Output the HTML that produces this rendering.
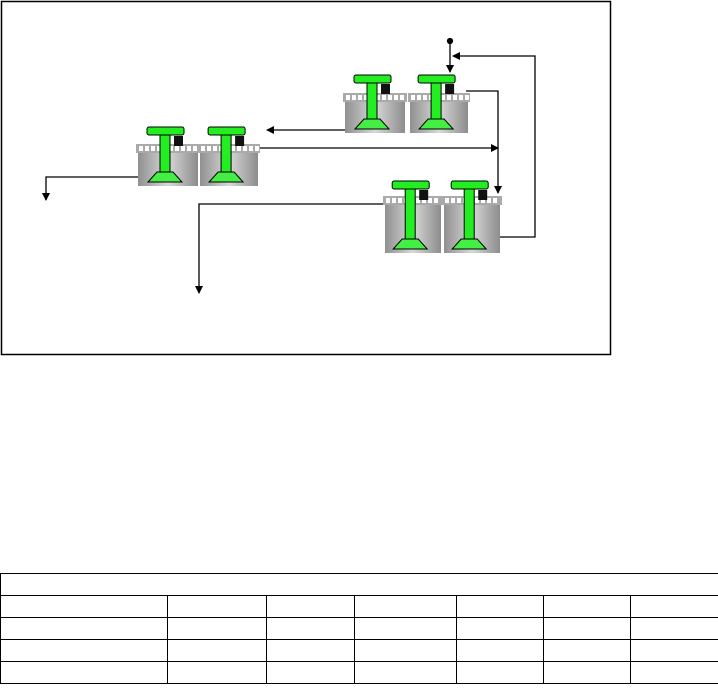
<!DOCTYPE html>
<html><head><style>body{margin:0;background:#fff;width:718px;height:690px;overflow:hidden}
table{position:absolute;left:0;top:573px;border-collapse:collapse;table-layout:fixed;width:718px}
td{border:1.5px solid #000;height:21px;padding:0}
</style></head><body>
<svg id="s" width="718" height="570" style="position:absolute;left:0;top:0">
<defs><linearGradient id="g" x1="0" x2="1"><stop offset="0" stop-color="#909090"/><stop offset=".5" stop-color="#d8d8d8"/><stop offset="1" stop-color="#8c8c8c"/></linearGradient>
<marker id="a" markerWidth="8" markerHeight="8" refX="7" refY="4" orient="auto" markerUnits="userSpaceOnUse"><path d="M0,0L8,4L0,8z"/></marker></defs>
<rect x="1.5" y="1.5" width="609" height="353" fill="none" stroke="#000" stroke-width="1.5"/>
<g fill="none" stroke="#000" stroke-width="1.3">
<path d="M450 41V72" marker-end="url(#a)"/><circle cx="450" cy="41" r="2.5" fill="#000"/>
<path d="M500 237H535V56H453" marker-end="url(#a)"/>
<path d="M466 91H498V193" marker-end="url(#a)"/>
<path d="M345 130H267" marker-end="url(#a)"/>
<path d="M258 148H498" marker-end="url(#a)"/>
<path d="M138 177H46V200" marker-end="url(#a)"/>
<path d="M385 204H199V293" marker-end="url(#a)"/>
</g>
<g id="cells"></g>
</svg>
<table><colgroup><col style="width:167px"><col style="width:99px"><col style="width:88px"><col style="width:102px"><col style="width:87px"><col style="width:87px"><col style="width:88px"></colgroup>
<tr><td colspan="7"></td></tr>
<tr><td></td><td></td><td></td><td></td><td></td><td></td><td></td></tr>
<tr><td></td><td></td><td></td><td></td><td></td><td></td><td></td></tr>
<tr><td></td><td></td><td></td><td></td><td></td><td></td><td></td></tr>
<tr><td></td><td></td><td></td><td></td><td></td><td></td><td></td></tr></table>
<script>
var out='';
function cell(x,y,w,h,bar){
 out+='<rect x="'+(x-2)+'" y="'+y+'" width="'+(w+4)+'" height="9" fill="#aaa"/>';
 for(var i=x;i<x+w-2;i+=6)out+='<rect x="'+(i+1)+'" y="'+(y+2)+'" width="4" height="5" fill="#fff"/>';
 out+='<rect x="'+x+'" y="'+(y+9)+'" width="'+w+'" height="'+(h-9)+'" fill="url(#g)"/>';
 var cx=x+w*0.45, by=bar, bot=y+h-4;
 out+='<rect x="'+(cx-5)+'" y="'+(by+6)+'" width="10" height="'+(bot-by-14)+'" fill="#22ee22" stroke="#000" stroke-width="1"/>';
 out+='<rect x="'+(cx-18)+'" y="'+by+'" width="37" height="8" rx="2" fill="#22ee22" stroke="#000" stroke-width="1"/>';
 out+='<rect x="'+(cx+9)+'" y="'+(by+9)+'" width="9" height="10" fill="#111"/>';
 out+='<path d="M'+(cx-8)+' '+(bot-10)+'H'+(cx+8)+'L'+(cx+17)+' '+bot+'H'+(cx-17)+'Z" fill="#44ee44" stroke="#000" stroke-width="1"/>';
}
cell(138,144,60,42,127);cell(200,144,58,42,127);
cell(345,93,60,40,75);cell(410,93,58,40,75);
cell(385,196,56,57,181);cell(444,196,56,57,181);
document.getElementById('cells').innerHTML=out;
</script>
</body></html>
